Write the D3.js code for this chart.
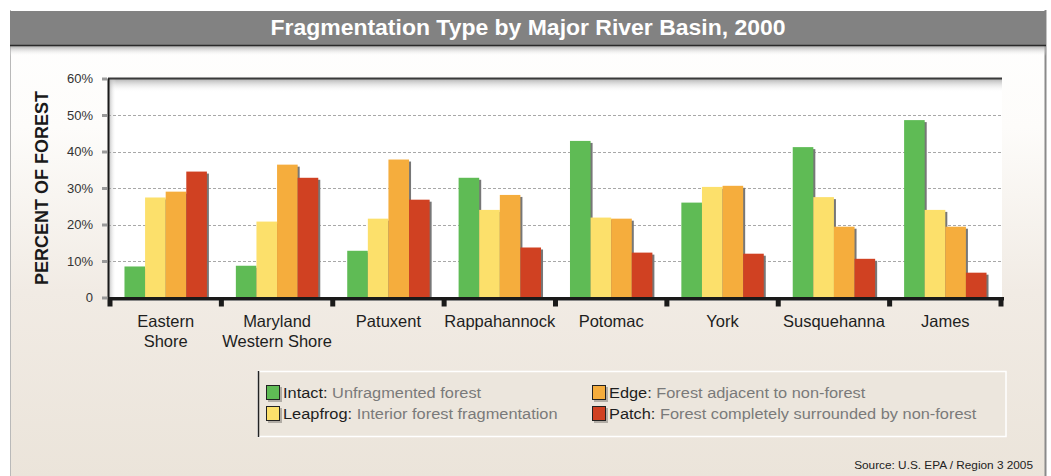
<!DOCTYPE html>
<html><head><meta charset="utf-8">
<script src="https://cdn.jsdelivr.net/npm/d3@7"></script>
<style>body{margin:0;background:#fff}svg{display:block}text{font-family:"Liberation Sans",Arial,sans-serif}</style>
</head><body><svg id="c" width="1051" height="476"></svg>
<script>
const basins = ["Eastern Shore","Maryland Western Shore","Patuxent","Rappahannock","Potomac","York","Susquehanna","James"];
const basinLines = [["Eastern","Shore"],["Maryland","Western Shore"],["Patuxent"],["Rappahannock"],["Potomac"],["York"],["Susquehanna"],["James"]];
const seriesNames = ["Intact","Leapfrog","Edge","Patch"];
const seriesDesc = ["Unfragmented forest","Interior forest fragmentation","Forest adjacent to non-forest","Forest completely surrounded by non-forest"];
const seriesColors = ["#5fbb55","#fce06b","#f5ad3d","#d04122"];
const intact   = [8.5, 8.7, 12.8, 32.8, 42.9, 26.0, 41.2, 48.6];
const leapfrog = [27.4, 20.8, 21.6, 24.0, 21.9, 30.3, 27.5, 24.0];
const edge     = [29.0, 36.4, 37.8, 28.1, 21.6, 30.6, 19.4, 19.4];
const patch    = [34.5, 32.8, 26.8, 13.7, 12.3, 12.0, 10.6, 6.8];
const yTicks = [0,10,20,30,40,50,60];
const yTickLabels = ["0","10%","20%","30%","40%","50%","60%"];
const values = [intact, leapfrog, edge, patch];

const svg = d3.select("#c");
const defs = svg.append("defs");
const bg = defs.append("linearGradient").attr("id","bg").attr("x1",0).attr("y1",0).attr("x2",0).attr("y2",1);
bg.append("stop").attr("offset","0%").attr("stop-color","#ffffff");
bg.append("stop").attr("offset","25%").attr("stop-color","#fdfcfa");
bg.append("stop").attr("offset","60%").attr("stop-color","#f1ebe4");
bg.append("stop").attr("offset","100%").attr("stop-color","#ebe4da");
const ts = defs.append("linearGradient").attr("id","ts").attr("x1",0).attr("y1",0).attr("x2",0).attr("y2",1);
ts.append("stop").attr("offset","0%").attr("stop-color","#999").attr("stop-opacity",0.8);
ts.append("stop").attr("offset","100%").attr("stop-color","#fff").attr("stop-opacity",0);
const ls = defs.append("linearGradient").attr("id","ls").attr("x1",0).attr("y1",0).attr("x2",1).attr("y2",0);
ls.append("stop").attr("offset","0%").attr("stop-color","#999").attr("stop-opacity",0.8);
ls.append("stop").attr("offset","100%").attr("stop-color","#fff").attr("stop-opacity",0);

// card
svg.append("rect").attr("x",10).attr("y",10).attr("width",1036).attr("height",470).attr("fill","url(#bg)");
svg.append("line").attr("x1",10.5).attr("x2",10.5).attr("y1",10).attr("y2",476).attr("stroke","#b9b9b9");
svg.append("line").attr("x1",1045.5).attr("x2",1045.5).attr("y1",10).attr("y2",476).attr("stroke","#8a8a8a").attr("stroke-width",2);
// title bar
svg.append("rect").attr("x",10).attr("y",46).attr("width",1036).attr("height",10).attr("fill","url(#ts)");
svg.append("rect").attr("x",10).attr("y",11).attr("width",1036).attr("height",35).attr("fill","#828282");
svg.append("line").attr("x1",10).attr("x2",1046).attr("y1",45.5).attr("y2",45.5).attr("stroke","#2a2a2a").attr("stroke-width",1.5);
svg.append("text").attr("x",528).attr("y",35).attr("text-anchor","middle").attr("fill","#fff")
  .attr("font-size",22).attr("font-weight","bold").attr("textLength",515).attr("lengthAdjust","spacingAndGlyphs")
  .text("Fragmentation Type by Major River Basin, 2000");

// scales
const x0 = d3.scaleBand().domain(basins).range([110,1001]).paddingInner(0.26).paddingOuter(0.13);
const x1 = d3.scaleBand().domain(seriesNames).range([0,x0.bandwidth()]);
const y = d3.scaleLinear().domain([0,60]).range([297.5,78.5]);

// plot area
const pl = 108, pr = 1002, pt = 78.5, pb = 297.5;
svg.append("rect").attr("x",pl).attr("y",pt).attr("width",pr-pl).attr("height",pb-pt).attr("fill","#fff");
svg.append("rect").attr("x",pl).attr("y",pt).attr("width",pr-pl).attr("height",14).attr("fill","url(#ts)");
svg.append("rect").attr("x",pl).attr("y",pt).attr("width",8).attr("height",pb-pt).attr("fill","url(#ls)");
// grid
svg.append("g").selectAll("line").data(yTicks.filter(d=>d>0 && d<60)).join("line")
  .attr("x1",pl).attr("x2",pr).attr("y1",d=>Math.round(y(d))+0.5).attr("y2",d=>Math.round(y(d))+0.5)
  .attr("stroke","#a8a8a8").attr("stroke-dasharray","3,2");
// frame
svg.append("line").attr("x1",pl).attr("x2",pr).attr("y1",pt).attr("y2",pt).attr("stroke","#3a3a3a").attr("stroke-width",2);
svg.append("line").attr("x1",pl+0.5).attr("x2",pl+0.5).attr("y1",pt).attr("y2",pb).attr("stroke","#1a1a1a").attr("stroke-width",2);

// y axis
const yAxis = d3.axisLeft(y).tickValues(yTicks).tickFormat((d,i)=>yTickLabels[i]).tickSize(5).tickPadding(9);
const ya = svg.append("g").attr("transform",`translate(${pl-1},0)`).call(yAxis);
ya.select(".domain").remove();
ya.selectAll(".tick line").attr("stroke","#9a9a9a").attr("stroke-width",3);
ya.selectAll(".tick text").attr("font-size",13).attr("fill","#333").attr("font-family","Liberation Sans, Arial, sans-serif");

// bars
const g = svg.append("g");
basins.forEach((b,i)=>{
  seriesNames.forEach((s,j)=>{
    const v = values[j][i];
    const bx = x0(b)+x1(s), bw = x1.bandwidth();
    g.append("rect").attr("x",bx+2).attr("y",y(v)+2).attr("width",bw).attr("height",pb-y(v)-2).attr("fill","#777");
  });
  seriesNames.forEach((s,j)=>{
    const v = values[j][i];
    g.append("rect").attr("x",x0(b)+x1(s)).attr("y",y(v)).attr("width",x1.bandwidth()).attr("height",pb-y(v)).attr("fill",seriesColors[j]);
  });
});

// x axis
svg.append("line").attr("x1",pl).attr("x2",1004).attr("y1",pb+1).attr("y2",pb+1).attr("stroke","#1a1a1a").attr("stroke-width",3);
svg.append("line").attr("x1",pl).attr("x2",1004).attr("y1",pb+3).attr("y2",pb+3).attr("stroke","#888").attr("stroke-width",1);
const bounds = basins.map(b=>x0(b)-x0.step()*x0.paddingInner()/2).concat([x0(basins[7])+x0.bandwidth()+x0.step()*x0.paddingInner()/2]);
svg.append("g").selectAll("rect").data(bounds).join("rect")
  .attr("x",d=>d-2.5).attr("y",pb).attr("width",5).attr("height",9).attr("fill","#1a1a1a");
const xl = svg.append("g").selectAll("text").data(basins).join("text")
  .attr("x",d=>x0(d)+x0.bandwidth()/2).attr("y",327).attr("text-anchor","middle").attr("font-size",16.5).attr("fill","#1e1e1e");
xl.each(function(d,i){
  const t = d3.select(this);
  basinLines[i].forEach((ln,k)=>t.append("tspan").attr("x",x0(d)+x0.bandwidth()/2).attr("dy",k===0?0:20).text(ln));
});

// y title
svg.append("text").attr("transform","translate(48,188) rotate(-90)").attr("text-anchor","middle")
  .attr("font-size",18).attr("font-weight","bold").attr("fill","#1a1a1a").text("PERCENT OF FOREST");

// legend
const lg = svg.append("g");
lg.append("rect").attr("x",258).attr("y",371.5).attr("width",748).attr("height",65).attr("fill","#ece6dd").attr("stroke","#fff").attr("stroke-width",1.5);
lg.append("line").attr("x1",258.5).attr("x2",258.5).attr("y1",371).attr("y2",437).attr("stroke","#222").attr("stroke-width",1.5);
const legPos = [[266,385],[266,406],[592,385],[592,406]];
seriesNames.forEach((s,j)=>{
  const [lx,ly] = legPos[j];
  lg.append("rect").attr("x",lx+2).attr("y",ly+2).attr("width",14).attr("height",15).attr("fill","#8a8580").attr("opacity",0.6);
  lg.append("rect").attr("x",lx+0.5).attr("y",ly+0.5).attr("width",13).attr("height",14).attr("fill",seriesColors[j]).attr("stroke","#222");
  const t = lg.append("text").attr("x",lx+17).attr("y",ly+13).attr("font-size",15.5);
  t.append("tspan").attr("fill","#1e1e1e").text(s+": ");
  t.append("tspan").attr("fill","#7a7a7a").text(seriesDesc[j]);
  const w = t.node().getComputedTextLength();
  t.attr("textLength", w*1.055).attr("lengthAdjust","spacingAndGlyphs");
});

svg.append("text").attr("x",1033).attr("y",469).attr("text-anchor","end").attr("font-size",11.8).attr("fill","#222")
  .attr("font-family","Open Sans, sans-serif").text("Source: U.S. EPA / Region 3 2005");
</script></body></html>
